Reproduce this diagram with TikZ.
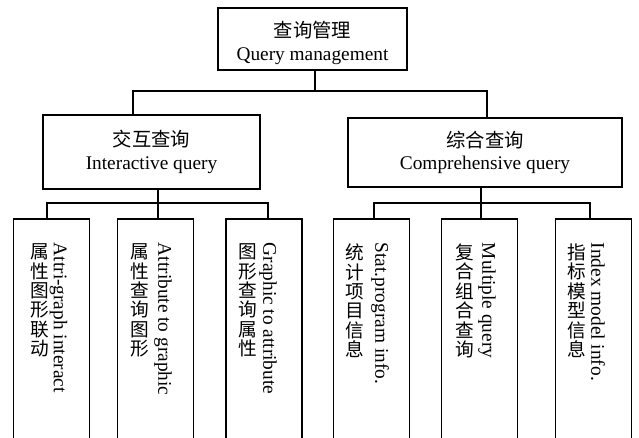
\documentclass[tikz,border=0pt]{standalone}
\usepackage{fontspec}
\setmainfont{Liberation Serif}
\newfontfamily\cjk{Noto Sans CJK SC}
\begin{document}
\begin{tikzpicture}[x=0.75pt,y=-0.75pt,line width=1.3pt,
  box/.style={draw,rectangle,inner sep=0pt,align=center,font=\fontsize{14.5pt}{17pt}\selectfont},
  txt/.style={inner sep=0pt,align=center,font=\fontsize{14.5pt}{17pt}\selectfont},
  leaf/.style={draw,rectangle,inner sep=0pt,minimum width=57pt,minimum height=174pt,anchor=north},
  en/.style={rotate=-90,anchor=west,inner sep=0pt,font=\fontsize{14.5pt}{16pt}\selectfont},
  zh/.style={anchor=north,inner sep=0pt,align=center,font=\cjk\fontsize{14pt}{14.55pt}\selectfont}]
\useasboundingbox (0,0) rectangle (639,438);
\clip (0,0) rectangle (639,438);
% top
\node[box,minimum width=141.75pt,minimum height=46.5pt] (T) at (312.5,39) {};
\node[txt] (Tt) at (312.5,43) {{\cjk 查询管理}\\Query management};
% middle
\node[box,minimum width=162.75pt,minimum height=55.5pt] (L) at (151.5,152) {{\cjk 交互查询}\\Interactive query};
\node[box,minimum width=205.5pt,minimum height=51.75pt] (R) at (485,152.5) {{\cjk 综合查询}\\Comprehensive query};
% leaves
\node[leaf] (B1) at (51.5,218) {};
\node[leaf] (B2) at (155.5,218) {};
\node[leaf] (B3) at (264,218) {};
\node[leaf] (B4) at (371.5,218) {};
\node[leaf] (B5) at (479.5,218) {};
\node[leaf] (B6) at (593.5,218) {};
\node[zh] (z1) at (39.5,243) {属\\性\\图\\形\\联\\动};
\node[en] (e1) at (58.5,242) {Attri-graph interact};
\node[zh] (z2) at (140,243) {属\\性\\查\\询\\图\\形};
\node[en] (e2) at (163,242) {Attribute to graphic};
\node[zh] (z3) at (248,243) {图\\形\\查\\询\\属\\性};
\node[en] (e3) at (268,242) {Graphic to attribute};
\node[zh] (z4) at (355,243) {统\\计\\项\\目\\信\\息};
\node[en] (e4) at (380,242) {Stat.program info.};
\node[zh] (z5) at (465,243) {复\\合\\组\\合\\查\\询};
\node[en] (e5) at (487,242) {Multiple query};
\node[zh] (z6) at (577,243) {指\\标\\模\\型\\信\\息};
\node[en] (e6) at (598,242) {Index model info.};
% connectors
\coordinate (jT) at (315,91);
\coordinate (cL) at (133,0);
\coordinate (cR) at (487,0);
\draw (T.south -| jT) -- (jT);
\draw (cL |- L.north) |- (jT) -| (cR |- R.north);
\coordinate (jL) at (158,203);
\coordinate (c1) at (47,0);
\coordinate (c3) at (268,0);
\draw (L.south -| jL) -- (jL);
\draw (c1 |- B1.north) |- (jL) -| (c3 |- B3.north);
\draw (jL) -- (jL |- B2.north);
\coordinate (jR) at (481,203);
\coordinate (c4) at (374,0);
\coordinate (c6) at (590,0);
\draw (R.south -| jR) -- (jR);
\draw (c4 |- B4.north) |- (jR) -| (c6 |- B6.north);
\draw (jR) -- (jR |- B5.north);
\end{tikzpicture}
\end{document}
